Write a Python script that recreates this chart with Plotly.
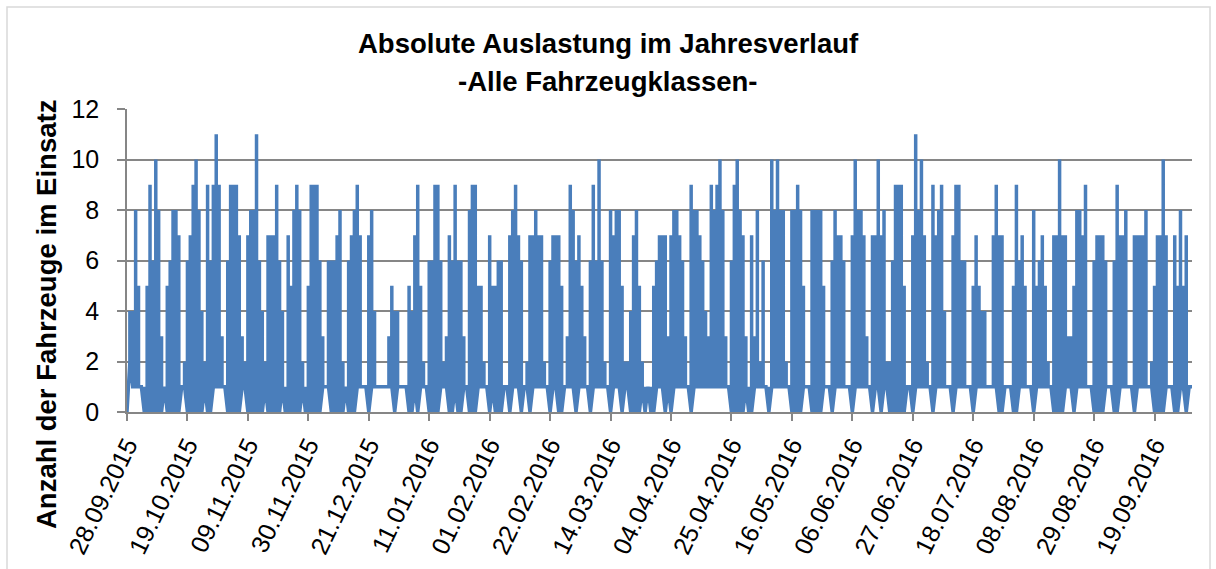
import pandas as pd
import plotly.graph_objects as go

# Tagesmaximum der eingesetzten Fahrzeuge, ab Mo 28.09.2015 (eine Zeile = eine Woche Mo-So)
tages_max = [
    1, 4, 4, 8, 5, 1, 1,
    5, 9, 6, 10, 8, 3, 1,
    5, 6, 8, 8, 7, 1, 2,
    6, 7, 9, 10, 8, 4, 2,
    9, 6, 9, 11, 9, 3, 1,
    6, 9, 9, 9, 7, 3, 2,
    7, 8, 8, 11, 6, 4, 2,
    7, 7, 7, 9, 6, 4, 1,
    7, 5, 8, 9, 8, 2, 1,
    5, 9, 9, 9, 6, 3, 1,
    6, 6, 6, 7, 8, 2, 1,
    6, 7, 8, 9, 7, 1, 1,
    7, 8, 4, 1, 1, 1, 1,
    3, 5, 4, 4, 1, 1, 1,
    5, 4, 7, 9, 5, 2, 1,
    6, 6, 9, 9, 6, 2, 3,
    7, 6, 9, 6, 6, 3, 1,
    8, 9, 9, 5, 5, 2, 1,
    7, 5, 5, 6, 6, 1, 1,
    7, 8, 9, 7, 6, 1, 2,
    7, 7, 8, 7, 7, 2, 1,
    6, 7, 7, 7, 5, 1, 3,
    9, 8, 6, 7, 5, 3, 1,
    6, 9, 6, 10, 6, 2, 1,
    8, 7, 8, 8, 5, 2, 2,
    4, 7, 8, 5, 2, 1, 1,
    1, 5, 6, 7, 7, 7, 3,
    7, 8, 8, 7, 6, 3, 1,
    9, 8, 8, 7, 6, 4, 3,
    9, 8, 9, 10, 8, 3, 1,
    6, 9, 10, 8, 7, 3, 1,
    7, 3, 8, 2, 6, 1, 1,
    10, 8, 10, 8, 8, 2, 1,
    8, 8, 9, 8, 5, 1, 1,
    8, 8, 8, 8, 5, 1, 1,
    6, 8, 7, 7, 6, 1, 1,
    7, 10, 8, 8, 7, 3, 1,
    7, 7, 10, 7, 8, 2, 2,
    6, 9, 9, 9, 5, 1, 1,
    7, 11, 8, 10, 7, 2, 1,
    9, 7, 8, 9, 4, 1, 1,
    7, 9, 9, 6, 6, 1, 1,
    5, 7, 5, 4, 4, 1, 1,
    7, 9, 7, 7, 1, 1, 1,
    5, 9, 6, 7, 5, 1, 1,
    8, 5, 6, 7, 5, 2, 1,
    7, 7, 10, 7, 7, 3, 3,
    5, 8, 8, 7, 9, 1, 1,
    6, 7, 7, 7, 6, 1, 1,
    6, 9, 7, 7, 8, 1, 1,
    7, 7, 7, 7, 8, 1, 2,
    5, 7, 7, 10, 7, 1, 1,
    7, 5, 8, 5, 7, 1, 1,
]

# Tagesminimum (gleiche Anordnung)
tages_min = [
    0, 2, 1, 1, 1, 1, 0,
    0, 0, 0, 0, 0, 0, 1,
    0, 0, 0, 0, 0, 1, 1,
    0, 0, 0, 0, 0, 0, 1,
    0, 0, 1, 1, 1, 1, 1,
    0, 0, 0, 0, 0, 1, 1,
    0, 0, 0, 0, 0, 0, 1,
    0, 0, 0, 0, 0, 1, 0,
    0, 0, 0, 0, 0, 1, 0,
    0, 0, 0, 0, 0, 1, 1,
    1, 0, 0, 0, 0, 0, 1,
    0, 0, 0, 1, 1, 1, 1,
    0, 1, 1, 1, 1, 1, 1,
    1, 1, 0, 1, 1, 1, 1,
    0, 0, 1, 0, 1, 1, 1,
    0, 0, 0, 0, 1, 1, 1,
    0, 0, 1, 0, 0, 1, 1,
    0, 0, 0, 1, 1, 1, 1,
    0, 1, 0, 0, 0, 1, 1,
    0, 1, 1, 1, 0, 1, 1,
    0, 1, 1, 1, 1, 1, 1,
    0, 1, 1, 0, 0, 1, 1,
    1, 1, 0, 1, 1, 1, 1,
    0, 1, 1, 1, 1, 1, 1,
    0, 1, 1, 1, 0, 1, 1,
    0, 0, 0, 0, 1, 0, 1,
    0, 0, 1, 1, 1, 0, 1,
    0, 1, 1, 1, 1, 1, 1,
    0, 1, 1, 1, 1, 1, 1,
    1, 1, 1, 1, 1, 1, 1,
    0, 0, 0, 0, 0, 1, 0,
    0, 1, 1, 1, 1, 1, 0,
    1, 1, 1, 1, 1, 1, 1,
    0, 0, 0, 0, 1, 1, 1,
    0, 0, 0, 0, 1, 1, 1,
    0, 1, 1, 1, 1, 1, 1,
    0, 1, 1, 1, 1, 1, 1,
    0, 1, 1, 0, 1, 1, 0,
    0, 0, 0, 0, 0, 1, 1,
    0, 1, 1, 1, 1, 1, 1,
    0, 1, 1, 1, 1, 1, 1,
    0, 1, 1, 1, 1, 1, 1,
    0, 1, 1, 1, 1, 1, 1,
    1, 1, 0, 0, 1, 1, 1,
    0, 0, 1, 1, 1, 1, 1,
    0, 1, 1, 1, 1, 1, 1,
    0, 0, 0, 0, 1, 1, 1,
    0, 1, 1, 1, 1, 1, 1,
    0, 0, 0, 0, 1, 1, 1,
    0, 0, 1, 1, 1, 1, 1,
    0, 1, 1, 1, 1, 1, 1,
    0, 0, 0, 0, 1, 1, 1,
    0, 0, 1, 1, 0, 1, 1,
]

start = "2015-09-28"
tage = pd.date_range(start, periods=len(tages_max), freq="D")
tick_tage = pd.date_range(start, tage[-1], freq="21D")
tick_labels = [t.strftime("%d.%m.%Y") for t in tick_tage]

# Excel-Datumsachse: alle Werte eines Tages liegen auf derselben x-Position
x, y = [], []
for t, lo, hi in zip(tage, tages_min, tages_max):
    x += [t, t, t]
    y += [lo, hi, lo]

BLUE = "#4a7ebb"
GRID = "#868686"
FONT = "Liberation Sans, Arial, sans-serif"

fig = go.Figure()
fig.add_trace(go.Scatter(x=x, y=y, mode="lines", line=dict(color=BLUE, width=3.5),
                         showlegend=False, hoverinfo="skip"))

fig.update_layout(
    width=1216, height=569,
    margin=dict(l=127, r=24, t=109, b=157),
    paper_bgcolor="white", plot_bgcolor="white",
    font=dict(family=FONT, color="black", size=25),
    showlegend=False,
)
fig.update_xaxes(
    type="date", range=[tage[0], tage[-1]], automargin=False,
    tickvals=tick_tage, ticktext=tick_labels, tickangle=-64,
    ticks="outside", ticklen=7, tickcolor=GRID, tickwidth=1.5,
    showline=True, linecolor=GRID, linewidth=1.5,
    showgrid=False, zeroline=False,
    tickfont=dict(size=25, family=FONT),
)
fig.update_yaxes(
    range=[0, 12], dtick=2, automargin=False,
    ticks="outside", ticklen=8, tickcolor=GRID, tickwidth=1.5,
    ticklabelstandoff=13,
    showline=True, linecolor=GRID, linewidth=1.5,
    showgrid=True, gridcolor=GRID, gridwidth=1.5, zeroline=False,
    tickfont=dict(size=25, family=FONT),
)

# Titel und Achsentitel
fig.add_annotation(text="<b>Absolute Auslastung im Jahresverlauf</b>", xref="paper", yref="paper",
                   x=(608 - 127) / 1065, y=(412 - 44) / 303, showarrow=False,
                   xanchor="center", yanchor="middle", font=dict(size=27.5))
fig.add_annotation(text="<b>-Alle Fahrzeugklassen-</b>", xref="paper", yref="paper",
                   x=(608 - 127) / 1065, y=(412 - 81) / 303, showarrow=False,
                   xanchor="center", yanchor="middle", font=dict(size=27.5))
fig.add_annotation(text="<b>Anzahl der Fahrzeuge im Einsatz</b>", xref="paper", yref="paper",
                   x=(46 - 127) / 1065, y=(412 - 315) / 303, showarrow=False, textangle=-90,
                   xanchor="center", yanchor="middle", font=dict(size=27.5))

# Diagrammrahmen
fig.add_shape(type="rect", xref="paper", yref="paper",
              x0=(7 - 127) / 1065, x1=(1210 - 127) / 1065,
              y0=(412 - 600) / 303, y1=(412 - 7) / 303,
              line=dict(color="#d9d9d9", width=1.5), fillcolor="rgba(0,0,0,0)", layer="below")

# Seitenrand der HTML-Seite entfernen, damit das Diagramm bei (0, 0) beginnt
fig.write_html("out.html", config={"displayModeBar": False},
               post_script="document.body.style.margin = '0';")
